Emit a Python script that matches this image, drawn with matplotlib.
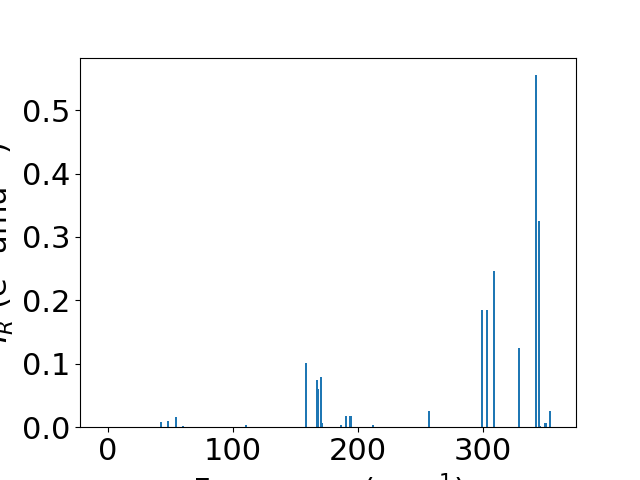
import numpy as np
import matplotlib
matplotlib.use("Agg")
import matplotlib.pyplot as plt

# frequencies (cm^-1) and Raman/IR intensities
freqs = [42.2, 48.3, 54.2, 59.8, 110.7, 158.7, 166.9, 168.3, 170.1, 171.3,
         186.4, 190.4, 193.4, 194.8, 211.7, 256.6, 299.2, 303.2, 308.8,
         328.8, 342.3, 344.7, 345.8, 349.2, 350.6, 353.4]
intens = [0.008, 0.010, 0.016, 0.002, 0.003, 0.101, 0.074, 0.060, 0.079, 0.007,
          0.003, 0.017, 0.017, 0.017, 0.003, 0.025, 0.185, 0.185, 0.246,
          0.125, 0.555, 0.325, 0.002, 0.006, 0.006, 0.025]

plt.rcParams['font.size'] = 22

fig = plt.figure(figsize=(6.4, 4.8), dpi=100)
ax = fig.add_subplot(111)
ax.bar(freqs, intens, width=1.5)
ax.set_xlim(-22.4, 374.4)
ax.set_xlabel("Frequency (cm$^{-1}$)")
ax.set_ylabel("$I_R$ (e$^2$ amu$^{-1}$)")

fig.savefig("out.png", dpi=100)
